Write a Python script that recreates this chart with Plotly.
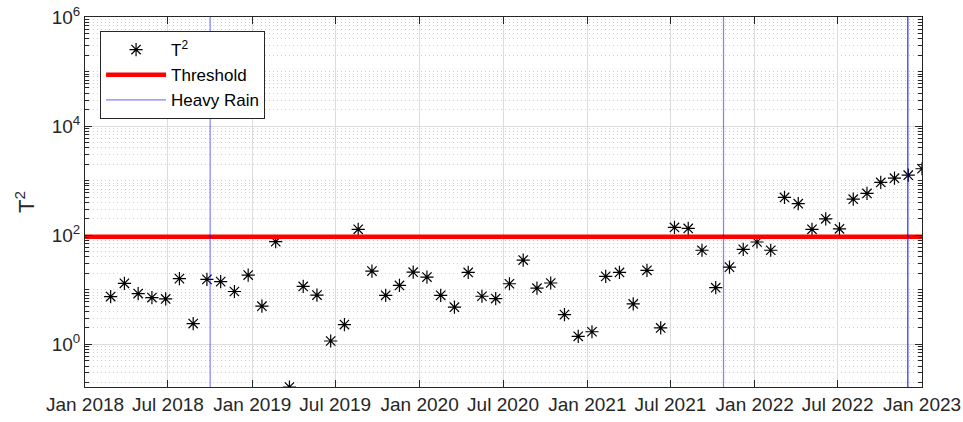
import numpy as np
import pandas as pd
import plotly.graph_objects as go

# ---------------- data ----------------
start_date = "2018-02-26"
n_samples = 60
sample_step = "30D"
t2_values = [7.5, 13.1, 8.5, 7.2, 6.8, 16, 2.4, 15.5, 14.1, 9.3,
             18.6, 5.0, 76, 0.165, 11.5, 8.0, 1.15, 2.3, 128, 22,
             7.9, 12, 21, 17.1, 7.9, 4.8, 20.8, 7.6, 6.9, 12.9,
             35, 10.7, 13.3, 3.5, 1.4, 1.7, 17.6, 20.8, 5.5, 22.7,
             2.0, 139, 133, 53, 10.9, 26, 55, 75, 53, 492,
             378, 128, 200, 131, 457, 583, 927, 1111, 1260, 1652]
threshold = 94
heavy_rain_dates = ["2018-10-01", "2021-10-25", "2022-12-01", "2022-12-01"]
x_range = ["2018-01-01", "2023-01-01"]
x_tick_dates = ["2018-01-01", "2018-07-01", "2019-01-01", "2019-07-01", "2020-01-01",
                "2020-07-01", "2021-01-01", "2021-07-01", "2022-01-01", "2022-07-01",
                "2023-01-01"]
x_tick_labels = ["Jan 2018", "Jul 2018", "Jan 2019", "Jul 2019", "Jan 2020",
                 "Jul 2020", "Jan 2021", "Jul 2021", "Jan 2022", "Jul 2022",
                 "Jan 2023"]
y_tick_vals = [1, 1e2, 1e4, 1e6]
y_tick_labels = ["10<sup>0</sup>", "10<sup>2</sup>", "10<sup>4</sup>", "10<sup>6</sup>"]
y_top_exp = 6

dates = pd.date_range(start=start_date, periods=n_samples, freq=sample_step)

# minor tick positions on log axis (every integer multiple per decade, except labelled majors)
minor_vals = []
for e in range(-1, y_top_exp):
    for m in range(1, 10):
        v = m * 10.0 ** e
        if v not in y_tick_vals:
            minor_vals.append(v)

FONT = "Liberation Sans, Arial, sans-serif"
TXT = "#262626"

fig = go.Figure()

fig.add_trace(go.Scatter(
    x=dates, y=t2_values, mode="markers", name="T<sup>2</sup>",
    marker=dict(symbol="asterisk-open", size=11, color="black",
                line=dict(color="black", width=1.2)),
    legendrank=1,
))

fig.add_trace(go.Scatter(
    x=x_range, y=[threshold, threshold], mode="lines", name="Threshold",
    line=dict(color="#ff0000", width=4.5), legendrank=2,
))

for d in heavy_rain_dates:
    fig.add_vline(x=pd.Timestamp(d).value / 1e6, line=dict(color="rgba(0,0,255,0.5)", width=1.2),
                  layer="above")

fig.add_trace(go.Scatter(
    x=[None], y=[None], mode="lines", name="Heavy Rain",
    line=dict(color="rgba(0,0,255,0.5)", width=1.2), legendrank=3,
))

fig.update_layout(
    width=963, height=422,
    margin=dict(l=85, r=41, t=17, b=35),
    paper_bgcolor="white", plot_bgcolor="white",
    font=dict(family=FONT, color=TXT, size=18),
    showlegend=True,
    legend=dict(x=0.018, y=0.962, xanchor="left", yanchor="top",
                bgcolor="white", bordercolor=TXT, borderwidth=1,
                font=dict(size=17, color="black"), itemwidth=60,
                tracegroupgap=0),
)

fig.update_xaxes(
    type="date", range=x_range, automargin=False,
    tickmode="array", tickvals=x_tick_dates, ticktext=x_tick_labels,
    ticks="inside", ticklen=7, tickcolor=TXT,
    showline=True, linecolor=TXT, linewidth=1, mirror="allticks",
    showgrid=True, gridcolor="#dcdcdc", gridwidth=1,
    zeroline=False, tickfont=dict(size=19, color=TXT),
)

y_min = float(np.log10(min(t2_values)))
fig.update_yaxes(
    type="log", range=[y_min, y_top_exp], automargin=False,
    tickmode="array", tickvals=y_tick_vals, ticktext=y_tick_labels,
    ticks="inside", ticklen=7, tickcolor=TXT,
    showline=True, linecolor=TXT, linewidth=1, mirror="allticks",
    showgrid=True, gridcolor="#dcdcdc", gridwidth=1,
    zeroline=False, tickfont=dict(size=19, color=TXT),
    minor=dict(tickmode="array", tickvals=minor_vals, ticks="inside", ticklen=4,
               tickcolor=TXT, showgrid=True, gridcolor="#cfcfcf",
               griddash="1px,3px", gridwidth=1),
    title=dict(text="T<sup>2</sup>", font=dict(size=22, color=TXT), standoff=10),
)

fig.write_html("out.html", config={"displayModeBar": False},
               post_script="document.body.style.margin='0';document.body.style.overflow='hidden';")
